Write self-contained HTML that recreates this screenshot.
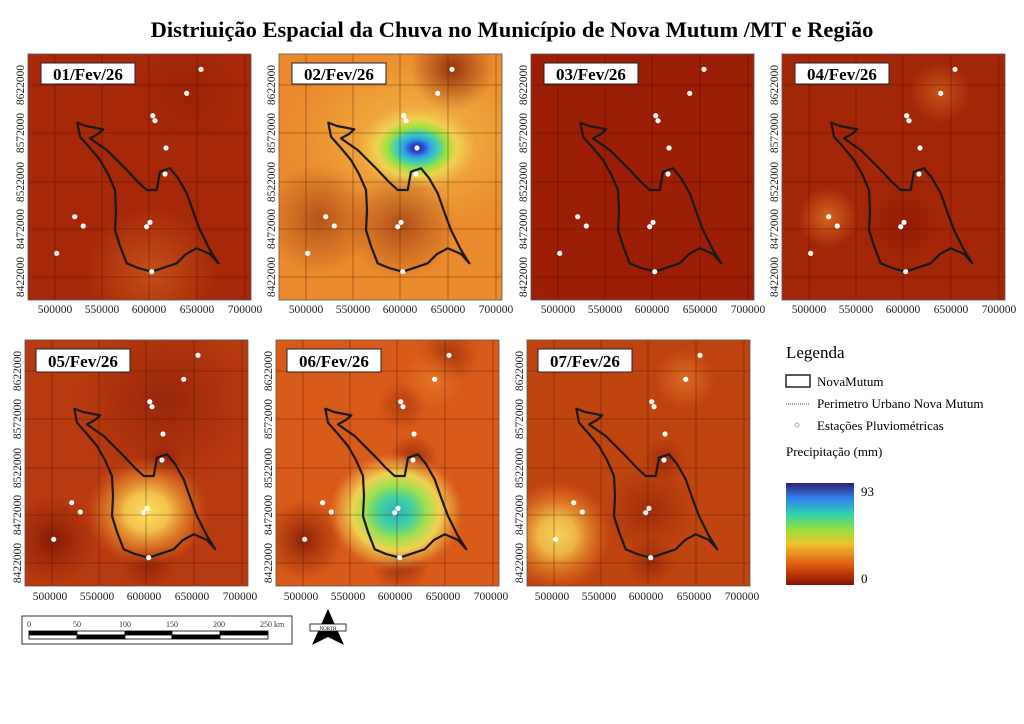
<!DOCTYPE html>
<html><head><meta charset="utf-8"><style>
body{margin:0;background:#fff;}
svg{display:block;font-family:"Liberation Serif",serif;}
.tk{font-size:11.5px;fill:#222;}
.lb{font-size:17px;font-weight:bold;}
</style></head><body>
<svg width="1024" height="724" viewBox="0 0 1024 724" xmlns="http://www.w3.org/2000/svg">
<defs>
<clipPath id="cp"><rect x="0" y="0" width="223" height="246"/></clipPath>
<radialGradient id="gO"><stop offset="0" stop-color="#f08a30" stop-opacity="0.9"/><stop offset="1" stop-color="#f08a30" stop-opacity="0"/></radialGradient>
<radialGradient id="gL2"><stop offset="0" stop-color="#f4c450" stop-opacity="0.9"/><stop offset="0.6" stop-color="#f2b040" stop-opacity="0.5"/><stop offset="1" stop-color="#f0a040" stop-opacity="0"/></radialGradient>
<radialGradient id="gY"><stop offset="0" stop-color="#f8e060"/><stop offset="0.35" stop-color="#f3c24a"/><stop offset="0.7" stop-color="#e8862a" stop-opacity="0.6"/><stop offset="1" stop-color="#e06020" stop-opacity="0"/></radialGradient>
<radialGradient id="gD"><stop offset="0" stop-color="#6a0800" stop-opacity="0.85"/><stop offset="1" stop-color="#7a1000" stop-opacity="0"/></radialGradient>
<radialGradient id="gB"><stop offset="0" stop-color="#2a1a80"/><stop offset="0.1" stop-color="#2a40c8"/><stop offset="0.22" stop-color="#30a0e8"/><stop offset="0.35" stop-color="#40d0b0"/><stop offset="0.5" stop-color="#a0e040"/><stop offset="0.68" stop-color="#f0d050"/><stop offset="1" stop-color="#f0c050" stop-opacity="0"/></radialGradient>
<radialGradient id="gC"><stop offset="0" stop-color="#30b0c0"/><stop offset="0.25" stop-color="#40d0a0"/><stop offset="0.45" stop-color="#a0e050"/><stop offset="0.65" stop-color="#f0d050"/><stop offset="0.85" stop-color="#eea040" stop-opacity="0.6"/><stop offset="1" stop-color="#e87030" stop-opacity="0"/></radialGradient>
<linearGradient id="gL" x1="0" y1="1" x2="0" y2="0"><stop offset="0" stop-color="#8a1000"/><stop offset="0.2" stop-color="#e05a10"/><stop offset="0.4" stop-color="#f0c030"/><stop offset="0.55" stop-color="#90e040"/><stop offset="0.7" stop-color="#30d0b0"/><stop offset="0.85" stop-color="#3080f0"/><stop offset="1" stop-color="#302070"/></linearGradient>
<g id="grid" stroke="#3a1000" stroke-opacity="0.45" stroke-width="0.8">
<line x1="27" y1="0" x2="27" y2="246"/><line x1="74" y1="0" x2="74" y2="246"/><line x1="121" y1="0" x2="121" y2="246"/><line x1="169" y1="0" x2="169" y2="246"/><line x1="217" y1="0" x2="217" y2="246"/>
<line x1="0" y1="31" x2="223" y2="31"/><line x1="0" y1="79" x2="223" y2="79"/><line x1="0" y1="128" x2="223" y2="128"/><line x1="0" y1="175" x2="223" y2="175"/><line x1="0" y1="223" x2="223" y2="223"/>
</g>
<polygon id="ol" fill="none" stroke="#1a1a1a" stroke-width="2.2" stroke-linejoin="round" points="49.3,68.7 58,72 75.3,75.3 70,80 62,84.3 70,90 78.7,96 98.7,116 110,128 118.7,136 128.7,136 132,117.7 142,114.3 150,124 158.7,139.3 166,160 172,176 178,188 182,196 190.3,209.3 182,200 168.7,194.3 158,200 148.7,209.3 123.7,217.7 110,214 98.7,209.3 92,192 87,176 88,156 87,136 80,120 72,106 62,94 52,82.7"/>
<g id="st" fill="#fff">
<circle cx="173" cy="15.3" r="2.6"/><circle cx="158.7" cy="39.3" r="2.6"/><circle cx="124.7" cy="61.7" r="2.6"/><circle cx="127" cy="66.7" r="2.6"/><circle cx="138" cy="94" r="2.6"/><circle cx="137" cy="120" r="2.6"/><circle cx="122" cy="168.3" r="2.6"/><circle cx="118.7" cy="172.7" r="2.6"/><circle cx="46.7" cy="162.7" r="2.6"/><circle cx="55.3" cy="172" r="2.6"/><circle cx="28.7" cy="199.3" r="2.6"/><circle cx="123.7" cy="217.7" r="2.6"/>
</g>
</defs>

<text x="512" y="37" text-anchor="middle" font-size="22.5" font-weight="bold">Distriuição Espacial da Chuva no Município de Nova Mutum /MT e Região</text>

<!-- Panel 1 -->
<g transform="translate(28,54)">
<g clip-path="url(#cp)">
<rect width="223" height="246" fill="#a62808"/>
<circle cx="123" cy="218" r="65" fill="url(#gO)" opacity="0.45"/>
<circle cx="160" cy="40" r="60" fill="url(#gD)" opacity="0.2"/>
<use href="#grid"/><use href="#ol"/><use href="#st"/>
</g>
<rect width="223" height="246" fill="none" stroke="#555" stroke-width="0.8"/>
<rect x="13" y="9" width="94" height="21" fill="#fff" stroke="#222"/>
<text x="60" y="26" text-anchor="middle" class="lb">01/Fev/26</text>
</g>
<!-- Panel 2 -->
<g transform="translate(279,54)">
<g clip-path="url(#cp)">
<rect width="223" height="246" fill="#ea8a2c"/>
<ellipse cx="140" cy="85" rx="130" ry="95" fill="url(#gL2)"/>
<circle cx="40" cy="165" r="55" fill="url(#gD)" opacity="0.5"/>
<circle cx="122" cy="170" r="55" fill="url(#gD)" opacity="0.55"/>
<circle cx="173" cy="15" r="42" fill="url(#gD)" opacity="0.8"/>
<circle cx="137" cy="120" r="20" fill="url(#gD)" opacity="0.4"/>
<ellipse cx="138" cy="94" rx="60" ry="42" fill="url(#gB)"/>
<use href="#grid"/><use href="#ol"/><use href="#st"/>
</g>
<rect width="223" height="246" fill="none" stroke="#555" stroke-width="0.8"/>
<rect x="13" y="9" width="94" height="21" fill="#fff" stroke="#222"/>
<text x="60" y="26" text-anchor="middle" class="lb">02/Fev/26</text>
</g>
<!-- Panel 3 -->
<g transform="translate(531,54)">
<g clip-path="url(#cp)">
<rect width="223" height="246" fill="#9c1e06"/>
<use href="#grid"/><use href="#ol"/><use href="#st"/>
</g>
<rect width="223" height="246" fill="none" stroke="#555" stroke-width="0.8"/>
<rect x="13" y="9" width="94" height="21" fill="#fff" stroke="#222"/>
<text x="60" y="26" text-anchor="middle" class="lb">03/Fev/26</text>
</g>
<!-- Panel 4 -->
<g transform="translate(782,54)">
<g clip-path="url(#cp)">
<rect width="223" height="246" fill="#a42608"/>
<circle cx="46" cy="163" r="30" fill="url(#gO)" opacity="0.7"/>
<circle cx="158" cy="39" r="30" fill="url(#gO)" opacity="0.5"/>
<circle cx="122" cy="170" r="40" fill="url(#gD)" opacity="0.4"/>
<use href="#grid"/><use href="#ol"/><use href="#st"/>
</g>
<rect width="223" height="246" fill="none" stroke="#555" stroke-width="0.8"/>
<rect x="13" y="9" width="94" height="21" fill="#fff" stroke="#222"/>
<text x="60" y="26" text-anchor="middle" class="lb">04/Fev/26</text>
</g>
<!-- Panel 5 -->
<g transform="translate(25,340)">
<g clip-path="url(#cp)">
<rect width="223" height="246" fill="#b83a10"/>
<circle cx="140" cy="60" r="90" fill="url(#gD)" opacity="0.5"/>
<circle cx="28" cy="200" r="45" fill="url(#gD)" opacity="0.7"/>
<circle cx="124" cy="222" r="28" fill="url(#gD)" opacity="0.6"/>
<circle cx="137" cy="120" r="22" fill="url(#gD)" opacity="0.4"/>
<ellipse cx="122" cy="172" rx="62" ry="55" fill="url(#gY)"/>
<use href="#grid"/><use href="#ol"/><use href="#st"/>
</g>
<rect width="223" height="246" fill="none" stroke="#555" stroke-width="0.8"/>
<rect x="11" y="9" width="94" height="23" fill="#fff" stroke="#222"/>
<text x="58" y="27" text-anchor="middle" class="lb">05/Fev/26</text>
</g>
<!-- Panel 6 -->
<g transform="translate(276,340)">
<g clip-path="url(#cp)">
<rect width="223" height="246" fill="#d85a18"/>
<circle cx="28" cy="200" r="40" fill="url(#gD)" opacity="0.8"/>
<circle cx="124" cy="222" r="30" fill="url(#gD)" opacity="0.7"/>
<circle cx="137" cy="120" r="25" fill="url(#gD)" opacity="0.7"/>
<circle cx="173" cy="15" r="30" fill="url(#gD)" opacity="0.5"/>
<circle cx="126" cy="66" r="25" fill="url(#gD)" opacity="0.4"/>
<circle cx="158" cy="39" r="30" fill="url(#gO)" opacity="0.6"/>
<ellipse cx="120" cy="172" rx="68" ry="60" fill="url(#gC)"/>
<use href="#grid"/><use href="#ol"/><use href="#st"/>
</g>
<rect width="223" height="246" fill="none" stroke="#555" stroke-width="0.8"/>
<rect x="11" y="9" width="94" height="23" fill="#fff" stroke="#222"/>
<text x="58" y="27" text-anchor="middle" class="lb">06/Fev/26</text>
</g>
<!-- Panel 7 -->
<g transform="translate(527,340)">
<g clip-path="url(#cp)">
<rect width="223" height="246" fill="#c04410"/>
<circle cx="30" cy="195" r="55" fill="url(#gY)" opacity="0.9"/>
<circle cx="158" cy="39" r="30" fill="url(#gO)" opacity="0.6"/>
<circle cx="122" cy="170" r="45" fill="url(#gD)" opacity="0.45"/>
<circle cx="124" cy="222" r="25" fill="url(#gD)" opacity="0.5"/>
<circle cx="137" cy="120" r="22" fill="url(#gD)" opacity="0.5"/>
<use href="#grid"/><use href="#ol"/><use href="#st"/>
</g>
<rect width="223" height="246" fill="none" stroke="#555" stroke-width="0.8"/>
<rect x="11" y="9" width="94" height="23" fill="#fff" stroke="#222"/>
<text x="58" y="27" text-anchor="middle" class="lb">07/Fev/26</text>
</g>

<!-- tick labels -->
<g class="tk" text-anchor="middle">
<text x="55" y="313">500000</text><text x="102" y="313">550000</text><text x="149" y="313">600000</text><text x="197" y="313">650000</text><text x="245" y="313">700000</text>
<text x="306" y="313">500000</text><text x="353" y="313">550000</text><text x="400" y="313">600000</text><text x="448" y="313">650000</text><text x="496" y="313">700000</text>
<text x="558" y="313">500000</text><text x="605" y="313">550000</text><text x="652" y="313">600000</text><text x="700" y="313">650000</text><text x="748" y="313">700000</text>
<text x="809" y="313">500000</text><text x="856" y="313">550000</text><text x="903" y="313">600000</text><text x="951" y="313">650000</text><text x="999" y="313">700000</text>
<text x="50" y="600">500000</text><text x="97" y="600">550000</text><text x="144" y="600">600000</text><text x="192" y="600">650000</text><text x="240" y="600">700000</text>
<text x="301" y="600">500000</text><text x="348" y="600">550000</text><text x="395" y="600">600000</text><text x="443" y="600">650000</text><text x="491" y="600">700000</text>
<text x="552" y="600">500000</text><text x="599" y="600">550000</text><text x="646" y="600">600000</text><text x="694" y="600">650000</text><text x="742" y="600">700000</text>
</g>
<g class="tk" text-anchor="middle">
<g transform="translate(24,0)">
<text transform="translate(0,85) rotate(-90)">8622000</text><text transform="translate(0,133) rotate(-90)">8572000</text><text transform="translate(0,182) rotate(-90)">8522000</text><text transform="translate(0,229) rotate(-90)">8472000</text><text transform="translate(0,277) rotate(-90)">8422000</text></g>
<g transform="translate(275,0)">
<text transform="translate(0,85) rotate(-90)">8622000</text><text transform="translate(0,133) rotate(-90)">8572000</text><text transform="translate(0,182) rotate(-90)">8522000</text><text transform="translate(0,229) rotate(-90)">8472000</text><text transform="translate(0,277) rotate(-90)">8422000</text></g>
<g transform="translate(527,0)">
<text transform="translate(0,85) rotate(-90)">8622000</text><text transform="translate(0,133) rotate(-90)">8572000</text><text transform="translate(0,182) rotate(-90)">8522000</text><text transform="translate(0,229) rotate(-90)">8472000</text><text transform="translate(0,277) rotate(-90)">8422000</text></g>
<g transform="translate(778,0)">
<text transform="translate(0,85) rotate(-90)">8622000</text><text transform="translate(0,133) rotate(-90)">8572000</text><text transform="translate(0,182) rotate(-90)">8522000</text><text transform="translate(0,229) rotate(-90)">8472000</text><text transform="translate(0,277) rotate(-90)">8422000</text></g>
<g transform="translate(21,0)">
<text transform="translate(0,371) rotate(-90)">8622000</text><text transform="translate(0,419) rotate(-90)">8572000</text><text transform="translate(0,468) rotate(-90)">8522000</text><text transform="translate(0,515) rotate(-90)">8472000</text><text transform="translate(0,563) rotate(-90)">8422000</text></g>
<g transform="translate(272,0)">
<text transform="translate(0,371) rotate(-90)">8622000</text><text transform="translate(0,419) rotate(-90)">8572000</text><text transform="translate(0,468) rotate(-90)">8522000</text><text transform="translate(0,515) rotate(-90)">8472000</text><text transform="translate(0,563) rotate(-90)">8422000</text></g>
<g transform="translate(523,0)">
<text transform="translate(0,371) rotate(-90)">8622000</text><text transform="translate(0,419) rotate(-90)">8572000</text><text transform="translate(0,468) rotate(-90)">8522000</text><text transform="translate(0,515) rotate(-90)">8472000</text><text transform="translate(0,563) rotate(-90)">8422000</text></g>
</g>

<!-- Legend -->
<text x="786" y="358" font-size="17">Legenda</text>
<rect x="786" y="375" width="24" height="12" fill="none" stroke="#222" stroke-width="1.5"/>
<text x="817" y="386" font-size="13">NovaMutum</text>
<line x1="786" y1="404" x2="810" y2="404" stroke="#333" stroke-dasharray="1,1"/>
<text x="817" y="408" font-size="13">Perimetro Urbano Nova Mutum</text>
<circle cx="797" cy="425" r="2" fill="none" stroke="#aaa"/>
<text x="817" y="430" font-size="13">Estações Pluviométricas</text>
<text x="786" y="456" font-size="13">Precipitação (mm)</text>
<rect x="786" y="483" width="68" height="102" fill="url(#gL)"/>
<text x="861" y="496" font-size="13">93</text>
<text x="861" y="583" font-size="13">0</text>

<!-- Scale bar -->
<rect x="22" y="616" width="270" height="28" fill="#fff" stroke="#333"/>
<g font-size="8" fill="#333"><text x="27" y="627">0</text><text x="73" y="627">50</text><text x="119" y="627">100</text><text x="166" y="627">150</text><text x="213" y="627">200</text><text x="260" y="627">250 km</text></g>
<g stroke="#000" stroke-width="0.8">
<rect x="29" y="631" width="48" height="4" fill="#000"/><rect x="77" y="631" width="48" height="4" fill="#fff"/><rect x="125" y="631" width="47" height="4" fill="#000"/><rect x="172" y="631" width="48" height="4" fill="#fff"/><rect x="220" y="631" width="48" height="4" fill="#000"/>
<rect x="29" y="635" width="48" height="4" fill="#fff"/><rect x="77" y="635" width="48" height="4" fill="#000"/><rect x="125" y="635" width="47" height="4" fill="#fff"/><rect x="172" y="635" width="48" height="4" fill="#000"/><rect x="220" y="635" width="48" height="4" fill="#fff"/>
</g>
<!-- North arrow -->
<polygon points="328,609 320,627 312,645 328,637 344,645 336,627" fill="#000"/>
<rect x="310" y="624" width="36" height="7" fill="#fff" stroke="#000" stroke-width="0.8"/>
<text x="328" y="630" font-size="5" text-anchor="middle">NORTH</text>
</svg>
</body></html>
